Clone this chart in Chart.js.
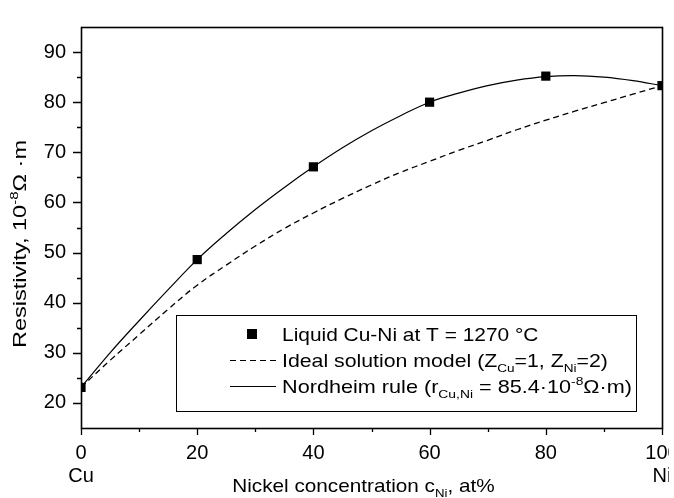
<!DOCTYPE html>
<html>
<head>
<meta charset="utf-8">
<script src="https://cdn.jsdelivr.net/npm/chart.js@4.4.1/dist/chart.umd.min.js"></script>
<style>
  html, body { margin: 0; padding: 0; background: #fff; overflow: hidden; }
  #wrap { position: relative; width: 669px; height: 498px; overflow: hidden; }
  #wrap canvas { position: absolute; left: 0; top: 0; }
</style>
</head>
<body>
<div id="wrap"><canvas id="chart" width="690" height="498"></canvas></div>
<script>
// Cu-Ni suyuq qotishma — solishtirma qarshilik (nuqtalar + ikki model egri chizig'i)

const curveX = [0, 5, 10, 15, 20, 25, 30, 35, 40, 45, 50, 55, 60, 65, 70, 75, 80, 85, 90, 95, 100];
const idealModel = [23.1, 28.5, 33.6, 38.7, 43.5, 47.5, 51.3, 54.8, 57.9, 60.8, 63.5, 66.0, 68.2, 70.4, 72.4, 74.5, 76.4, 78.2, 79.9, 81.6, 83.3];
const nordheimRule = [23.1, 30.0, 36.4, 42.6, 48.6, 53.8, 58.6, 63.0, 67.1, 70.9, 74.3, 77.3, 80.0, 81.8, 83.3, 84.4, 85.1, 85.3, 85.0, 84.3, 83.3];

const sampleX = [0, 20, 40, 60, 80, 100];
const measured = [23.1, 48.6, 67.1, 80.0, 85.2, 83.3];

const xLabelStep = 20;
const yLabelStep = 10;
const endNames = ["Cu", "Ni"];

const FONT = "'Liberation Sans', Arial, Helvetica, sans-serif";

function pairs(xs, ys) {
  return xs.map((x, i) => ({ x, y: ys[i] }));
}

// matn: [qism, rejim] — 0 oddiy, 1 yuqori indeks, -1 quyi indeks
function richWidth(ctx, parts, size) {
  let w = 0;
  for (const [t, m] of parts) {
    ctx.font = `${m ? size * 0.64 : size}px ${FONT}`;
    w += ctx.measureText(t).width;
  }
  return w;
}

function drawRich(ctx, parts, x, y, size, sx, align) {
  ctx.save();
  ctx.translate(x, y);
  ctx.scale(sx, 1);
  ctx.textBaseline = "alphabetic";
  ctx.textAlign = "left";
  ctx.fillStyle = "#000";
  let cx = align === "center" ? -richWidth(ctx, parts, size) / 2 : 0;
  for (const [t, m] of parts) {
    ctx.font = `${m ? size * 0.64 : size}px ${FONT}`;
    const dy = m === 1 ? -size * 0.42 : m === -1 ? size * 0.28 : 0;
    ctx.fillText(t, cx, dy);
    cx += ctx.measureText(t).width;
  }
  ctx.restore();
}

const frame = {
  id: "frame",
  afterDatasetsDraw(chart) {
    const { ctx, chartArea: a, scales } = chart;
    ctx.save();
    ctx.strokeStyle = "#000";

    // tashqi tomonga qaragan belgilar
    ctx.lineWidth = 1.3;
    ctx.beginPath();
    for (const t of scales.x.ticks) {
      if (t.value <= 0 || t.value >= 100) continue;
      const px = Math.round(scales.x.getPixelForValue(t.value)) + 0.5;
      const len = t.value % xLabelStep === 0 ? 7 : 4;
      ctx.moveTo(px, a.bottom);
      ctx.lineTo(px, a.bottom + len);
    }
    ctx.moveTo(Math.round(a.left) + 0.5, a.bottom);
    ctx.lineTo(Math.round(a.left) + 0.5, a.bottom + 7);
    ctx.moveTo(Math.round(a.right) + 0.5, a.bottom);
    ctx.lineTo(Math.round(a.right) + 0.5, a.bottom + 7);
    for (const t of scales.y.ticks) {
      if (t.value <= 15 || t.value >= 95) continue;
      const py = Math.round(scales.y.getPixelForValue(t.value)) + 0.5;
      const len = t.value % yLabelStep === 0 ? 8 : 4;
      ctx.moveTo(a.left, py);
      ctx.lineTo(a.left - len, py);
    }
    ctx.stroke();

    ctx.lineWidth = 1.6;
    ctx.strokeRect(Math.round(a.left) + 0.5, Math.round(a.top) + 0.5,
      Math.round(a.right - a.left), Math.round(a.bottom - a.top));

    // o'q sarlavhalari
    drawRich(ctx, [["Nickel concentration c", 0], ["Ni", -1], [", at%", 0]],
      (a.left + a.right) / 2 - 8, 492, 18.5, 1.12, "center");

    ctx.save();
    ctx.translate(26, 244);
    ctx.rotate(-Math.PI / 2);
    drawRich(ctx, [["Resistivity, 10", 0], ["-8", 1], ["Ω ·m", 0]], 0, 0, 18.5, 1.27, "center");
    ctx.restore();

    // legenda
    const L = { x: 176.5, y: 315.5, w: 460, h: 96 };
    ctx.fillStyle = "#fff";
    ctx.fillRect(L.x, L.y, L.w, L.h);
    ctx.lineWidth = 1;
    ctx.strokeRect(L.x, L.y, L.w, L.h);
    const rows = [334, 360, 386];
    const lx0 = 230, lx1 = 276, tx = 282;

    ctx.fillStyle = "#000";
    ctx.fillRect(247, rows[0] - 5, 10, 10);

    ctx.lineWidth = 1.2;
    ctx.setLineDash([6, 4]);
    ctx.beginPath();
    ctx.moveTo(lx0, rows[1] + 0.5);
    ctx.lineTo(lx1, rows[1] + 0.5);
    ctx.stroke();
    ctx.setLineDash([]);
    ctx.beginPath();
    ctx.moveTo(lx0, rows[2] + 0.5);
    ctx.lineTo(lx1, rows[2] + 0.5);
    ctx.stroke();

    const base = 6.5;
    drawRich(ctx, [["Liquid Cu-Ni at T = 1270 °C", 0]], tx, rows[0] + base, 18.5, 1.13);
    drawRich(ctx, [["Ideal solution model (Z", 0], ["Cu", -1], ["=1, Z", 0], ["Ni", -1], ["=2)", 0]],
      tx, rows[1] + base, 18.5, 1.15);
    drawRich(ctx, [["Nordheim rule (r", 0], ["Cu,Ni", -1], [" = 85.4·10", 0], ["-8", 1], ["Ω·m)", 0]],
      tx, rows[2] + base, 18.5, 1.17);
    ctx.restore();
  },
};

new Chart(document.getElementById("chart"), {
  type: "line",
  data: {
    datasets: [
      {
        label: "Liquid Cu-Ni at T = 1270 °C",
        data: pairs(sampleX, measured),
        showLine: false,
        pointStyle: "rect",
        pointRadius: 6.5,
        pointBorderWidth: 0,
        pointBackgroundColor: "#000",
        order: 0,
      },
      {
        label: "Ideal solution model",
        data: pairs(curveX, idealModel),
        borderColor: "#000",
        borderWidth: 1.3,
        borderDash: [6, 4],
        pointRadius: 0,
        tension: 0.4,
        fill: false,
        order: 2,
      },
      {
        label: "Nordheim rule",
        data: pairs(curveX, nordheimRule),
        borderColor: "#000",
        borderWidth: 1.2,
        pointRadius: 0,
        tension: 0.4,
        fill: false,
        order: 1,
      },
    ],
  },
  plugins: [frame],
  options: {
    responsive: false,
    animation: false,
    events: [],
    layout: { padding: { top: 12, right: 28, left: 0, bottom: 0 } },
    plugins: { legend: { display: false }, tooltip: { enabled: false } },
    scales: {
      x: {
        type: "linear",
        min: 0,
        max: 100,
        grid: { display: false, drawTicks: false },
        border: { display: false },
        afterFit: (s) => { s.height = 70; s.paddingRight = 0; s.paddingLeft = 0; },
        ticks: {
          stepSize: 10,
          autoSkip: false,
          maxRotation: 0,
          padding: 14,
          color: "#000",
          font: { family: FONT, size: 20, lineHeight: 1.15 },
          callback: (v) => {
            if (v % xLabelStep !== 0) return "";
            if (v === 0) return [String(v), endNames[0]];
            if (v === 100) return [String(v), endNames[1]];
            return String(v);
          },
        },
      },
      y: {
        min: 15,
        max: 95,
        grid: { display: false, drawTicks: false },
        border: { display: false },
        afterFit: (s) => { s.width = 81; },
        ticks: {
          stepSize: 5,
          autoSkip: false,
          padding: 15,
          color: "#000",
          font: { family: FONT, size: 20 },
          callback: (v) => (v % yLabelStep === 0 ? String(v) : ""),
        },
      },
    },
  },
});
</script>
</body>
</html>
